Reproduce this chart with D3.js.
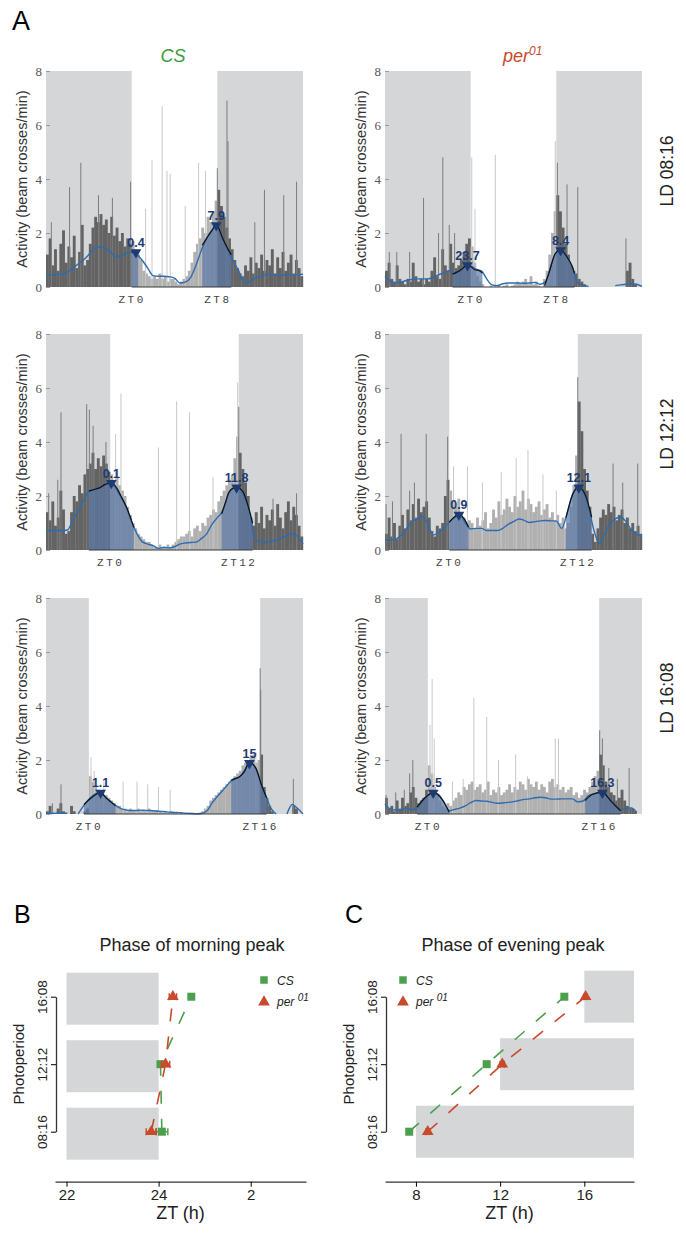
<!DOCTYPE html>
<html>
<head>
<meta charset="utf-8">
<script src="https://cdn.jsdelivr.net/npm/d3@7"></script>
<style>
body { margin: 0; background: #fff; }
svg text { font-family: "Liberation Sans", Arial, sans-serif; }
</style>
</head>
<body>
<svg id="fig" width="686" height="1233"></svg>
<script>
// ---- panel A data ----
var photoperiods = ["08:16", "12:12", "16:08"];
var lightHours = [8, 12, 16];

// activity, 15-min bins, starting at ZT (light/2 - 12)
var barsCS0816 = [1.2,1.8,0.8,1.4,0.6,1.6,2.1,0.9,1.5,1.1,1.9,0.7,1.3,2.3,0.8,1.0,
  1.6,2.2,2.6,2.4,2.7,2.3,2.5,2.0,2.6,1.9,2.2,1.7,2.0,1.5,1.8,1.6,
  1.7,1.4,1.2,1.0,0.6,0.5,0.4,0.3,0.4,0.3,0.5,0.3,0.4,0.2,0.3,0.3,
  0.2,0.1,0.2,0.3,0.4,0.6,0.9,1.3,1.6,1.8,2.2,2.0,2.6,2.4,2.8,3.2,
  3.6,3.0,2.6,2.2,1.8,1.4,1.0,0.7,0.5,0.4,0.8,0.6,1.1,0.5,0.9,0.7,
  1.2,0.6,1.0,0.8,1.4,0.5,1.1,0.7,1.3,0.6,0.9,1.2,0.5,1.0,0.7,0.4];
var barsPer0816 = [0.6,0.9,0.3,0.2,0.8,0.3,0.2,0.1,0.3,0.2,0.9,0.4,0.2,0.3,0.1,0.3,
  0.2,0.6,1.1,0.4,0.3,1.4,0.8,0.6,1.6,0.9,0.7,0.8,1.0,1.3,1.6,1.8,
  1.5,0.9,0.4,0.2,0.1,0.0,0.0,0.05,0.0,0.0,0.1,0.0,0.05,0.1,0.0,0.05,
  0.1,0.2,0.15,0.2,0.3,0.1,0.4,0.1,0.2,0.05,0.0,0.3,0.6,1.2,2.0,2.8,
  3.4,2.8,2.2,1.6,1.2,0.8,0.6,0.5,0.3,0.2,0.1,0.0,0.0,0.0,0.0,0.0,
  0.0,0.0,0.0,0.0,0.0,0.0,0.0,0.0,0.0,0.0,0.6,0.9,0.3,0.1,0.0,0.0];
var barsCS1212 = [1.4,1.1,1.8,0.9,1.2,2.2,1.5,0.6,0.7,1.4,2.0,1.8,2.4,2.1,2.8,3.0,
  3.2,3.6,3.0,3.4,3.1,3.5,3.2,2.9,2.8,2.6,2.7,2.4,2.2,2.0,1.6,1.3,
  1.0,0.8,0.6,0.5,0.4,0.3,0.3,0.2,0.1,0.1,0.2,0.1,0.1,0.2,0.1,0.2,
  0.3,0.4,0.5,0.5,0.6,0.7,0.5,0.8,0.9,0.7,1.0,0.9,1.2,1.3,1.5,1.4,
  1.8,2.0,2.2,2.4,2.6,2.8,3.4,4.2,3.6,3.0,2.5,2.0,1.2,0.9,1.4,1.0,
  1.6,0.8,1.3,1.1,1.5,0.9,1.7,1.2,0.8,1.4,1.8,1.1,1.6,1.3,0.9,0.5];
var barsPer1212 = [0.6,1.2,0.5,1.0,0.4,0.9,1.3,0.8,1.5,1.1,1.7,1.2,1.9,1.4,1.6,1.8,
  1.2,0.7,0.5,0.9,0.8,1.0,2.0,2.6,2.2,1.8,1.6,1.9,1.4,1.2,1.0,1.1,
  1.0,0.8,1.2,0.9,1.1,1.4,0.8,1.0,1.5,1.2,1.8,1.3,1.5,1.9,1.6,1.4,
  2.0,1.6,1.8,2.2,1.5,1.9,1.7,1.4,1.6,1.8,1.3,1.5,1.7,1.2,1.4,1.1,
  1.3,1.0,1.2,0.8,1.0,1.6,2.4,3.5,5.5,4.4,3.0,2.2,1.6,0.6,0.3,0.8,
  1.2,1.5,1.3,1.7,1.4,1.6,1.1,1.3,1.5,1.0,1.2,0.8,1.0,0.7,0.9,0.6];
var barsCS1608 = [0.1,0.3,0.05,0.0,0.2,0.4,0.1,0.0,0.0,0.3,0.1,0.0,0.0,0.0,0.1,0.2,
  1.4,1.2,1.0,0.9,0.8,0.7,0.7,0.6,0.5,0.4,0.3,0.3,0.2,0.2,0.1,0.2,
  0.15,0.1,0.2,0.1,0.15,0.1,0.2,0.1,0.1,0.15,0.1,0.05,0.1,0.05,0.1,0.05,
  0.05,0.0,0.05,0.0,0.0,0.05,0.0,0.0,0.0,0.05,0.1,0.2,0.3,0.5,0.6,0.7,
  0.8,0.9,1.0,1.1,1.2,1.3,1.4,1.5,1.6,1.8,1.9,2.0,2.1,2.2,1.9,2.0,
  2.2,1.0,0.6,0.3,0.1,0.0,0.0,0.0,0.0,0.0,0.0,0.0,0.3,0.2,0.0,0.0];
var barsPer1608 = [0.6,0.2,0.3,0.1,0.5,0.2,0.6,0.3,0.4,0.8,1.0,0.6,0.4,0.5,0.6,0.9,
  1.8,1.5,1.0,0.7,0.5,0.3,0.2,0.4,0.3,0.5,0.6,0.8,0.7,1.0,0.9,1.1,
  1.2,0.9,1.0,1.1,0.8,0.9,1.2,0.7,0.9,0.8,1.0,0.7,0.8,0.9,1.1,0.8,
  1.0,0.9,1.2,1.1,0.9,1.3,1.1,1.0,1.2,0.9,1.1,1.0,0.8,1.2,1.3,1.0,
  1.1,0.9,1.0,0.8,0.9,1.0,0.7,0.8,0.6,0.7,0.9,0.8,1.0,1.2,1.4,1.6,
  2.2,1.8,1.2,1.0,0.8,0.7,0.5,0.6,0.9,0.5,0.3,0.2,0.2,0.1,0.0,0.0];

// single tall 1-min counts [ZT, activity]
var spikesCS0816 = [[-7.5,2.4],[-5.8,3.7],[-4.75,4.6],[-3.1,3.4],[-1.8,3.3],[-0.1,3.9],[1.3,2.9],[1.9,4.7],[2.85,6.7],[3.3,4.3],[3.6,4.2],[5.0,3.0],[6.25,4.6],[6.9,4.3],[8.0,4.4],[8.9,6.9],[9.0,5.4],[11.5,2.4],[12.4,3.6],[14.2,3.4],[15.4,3.9]];
var spikesPer0816 = [[-7.6,1.3],[-6.9,1.3],[-5.7,1.3],[-4.4,3.3],[-3.0,2.0],[-2.6,4.8],[-2.0,2.3],[-1.5,2.0],[0.1,4.8],[0.4,2.9],[2.3,4.9],[7.9,5.4],[8.1,4.6],[9.0,3.8],[10.0,3.7],[14.5,1.8]];
var spikesCS1212 = [[-5.75,2.1],[-4.9,2.6],[-4.6,5.1],[-2.2,5.4],[-1.95,5.2],[-1.6,4.6],[-0.4,4.0],[0.5,4.3],[1.0,5.8],[4.5,3.8],[6.2,5.5],[7.4,5.1],[9.6,2.7],[11.9,6.2],[12.0,5.3],[15.2,1.9],[17.4,2.1]];
var spikesPer1212 = [[-5.9,1.7],[-5.3,1.8],[-4.5,4.3],[-3.7,2.2],[-3.25,2.5],[-2.15,4.3],[-0.15,4.2],[0.4,3.1],[1.7,3.1],[3.1,2.5],[4.85,2.9],[6.25,3.4],[7.35,3.7],[8.75,2.8],[10.0,2.2],[12.0,6.4],[15.3,3.2],[16.2,2.5],[17.6,3.2]];
var spikesCS1608 = [[-3.4,0.4],[-2.6,1.1],[0.2,2.1],[0.5,1.6],[1.4,1.2],[3.2,1.2],[4.5,1.2],[5.5,1.1],[6.5,1.0],[7.6,0.9],[13.8,1.4],[15.6,2.3],[16.0,5.4],[16.05,4.6],[19.1,1.3]];
var spikesPer1608 = [[-3.9,0.7],[-3.0,0.8],[-2.2,0.9],[-1.7,1.5],[-1.4,2.0],[0.2,3.3],[0.4,5.0],[0.6,2.8],[2.3,1.2],[3.3,1.3],[4.3,4.3],[5.5,3.6],[6.6,2.0],[8.2,2.2],[9.3,1.4],[11.9,2.8],[12.2,2.8],[16.05,3.1],[16.3,2.8],[16.9,1.7],[17.7,1.3],[18.8,1.7]];

// smoothed activity, every 30 min from ZT (light/2 - 12)
var smoothCS0816 = [0.45,0.45,0.46,0.48,0.55,0.7,0.85,1.0,1.2,1.42,1.48,1.44,1.3,1.12,1.15,1.25,1.3,
  1.2,0.98,0.7,0.42,0.4,0.4,0.38,0.33,0.15,0.18,0.35,0.8,1.35,1.8,2.1,2.28,
  1.8,1.35,0.95,0.6,0.15,0.2,0.32,0.4,0.45,0.47,0.46,0.44,0.45,0.46,0.46,0.47];
var smoothPer0816 = [0.4,0.22,0.15,0.18,0.24,0.28,0.3,0.3,0.3,0.36,0.45,0.52,0.6,0.5,0.6,0.78,0.78,
  0.66,0.6,0.3,0.08,0.05,0.12,0.15,0.15,0.15,0.14,0.15,0.17,0.1,0.2,0.8,1.28,
  1.36,1.12,0.74,0.15,0.08,0.02,null,null,null,null,0.05,0.08,0.1,0.12,0.1,0.02];
var smoothCS1212 = [0.72,0.72,0.72,0.72,0.74,1.1,1.45,1.82,2.18,2.24,2.32,2.44,2.5,
  2.3,1.95,1.59,1.05,0.6,0.3,0.22,0.16,0.06,0.1,0.08,0.12,
  0.22,0.26,0.28,0.29,0.42,0.6,0.95,1.2,1.45,2.05,2.3,2.3,
  2.0,1.45,0.4,0.3,0.28,0.32,0.37,0.45,0.55,0.6,0.5,0.22];
var smoothPer1212 = [0.37,0.37,0.4,0.55,0.78,1.05,1.15,1.24,0.95,0.55,0.65,0.8,1.03,
  1.2,1.3,1.0,0.78,0.8,0.8,0.72,0.72,0.72,0.8,0.95,1.05,
  1.15,1.1,1.02,1.05,1.08,1.09,1.08,1.07,0.8,1.34,2.05,2.32,
  2.15,1.6,0.75,0.25,0.6,0.95,1.15,1.22,1.05,0.75,0.57,0.53];
var smoothCS1608 = [0.02,0.02,0.03,0.03,0.03,null,0.0,0.3,0.55,0.72,0.8,0.65,0.47,
  0.32,0.2,0.15,0.13,0.13,0.14,0.13,0.12,0.1,0.09,0.07,0.06,
  0.05,0.03,0.02,0.01,0.02,0.1,0.4,0.65,0.87,1.1,1.3,1.35,
  1.6,1.9,1.75,1.25,0.7,0.22,0.0,null,0.0,0.35,0.2,0.0];
var smoothPer1608 = [0.37,0.18,0.15,0.15,0.22,0.16,0.25,0.52,0.68,0.8,0.72,0.45,0.12,
  0.17,0.22,0.3,0.42,0.5,0.48,0.47,0.43,0.4,0.41,0.43,0.46,
  0.5,0.54,0.56,0.6,0.62,0.6,0.55,0.55,0.56,0.56,0.56,0.45,
  0.48,0.68,0.75,0.8,0.75,0.55,0.3,0.15,0.22,0.22,0.06,null];

// peak windows [ZT, activity]
var peakCS0816M = [[0.0,1.28],[0.35,1.3],[0.6,1.22]];
var peakCS0816E = [[6.6,1.55],[7.0,1.8],[7.5,2.1],[7.9,2.3],[8.5,1.8],[9.0,1.4],[9.3,1.2]];
var peakPer0816M = [[-1.7,0.47],[-1.3,0.55],[-0.9,0.64],[-0.3,0.82],[0.4,0.64],[0.8,0.6],[1.1,0.52]];
var peakPer0816E = [[6.9,0.05],[7.3,0.5],[7.9,1.24],[8.4,1.38],[8.9,1.17],[9.5,0.74],[9.7,0.5]];
var peakCS1212M = [[-2.0,2.18],[-1.5,2.24],[-1.0,2.3],[-0.5,2.42],[0.1,2.5],[0.6,2.3],[1.0,2.0],[1.5,1.6],[2.2,0.84]];
var peakCS1212E = [[10.4,1.34],[10.8,1.8],[11.1,2.15],[11.8,2.33],[12.4,2.15],[12.9,1.59],[13.3,0.99]];
var peakPer1212M = [[0.0,1.03],[0.4,1.2],[0.9,1.32],[1.4,1.15],[1.8,0.85]];
var peakPer1212E = [[10.9,1.2],[11.55,2.08],[12.1,2.33],[12.8,1.95],[13.3,1.22]];
var peakCS1608M = [[-0.45,0.35],[0.3,0.62],[1.1,0.8],[1.6,0.6],[1.9,0.5],[2.5,0.3]];
var peakCS1608E = [[13.3,1.24],[13.8,1.33],[14.1,1.39],[14.5,1.55],[15.0,1.9],[15.6,1.7],[16.1,1.1],[16.6,0.6]];
var peakPer1608M = [[-1.0,0.25],[-0.2,0.62],[0.5,0.8],[1.4,0.5],[2.0,0.06]];
var peakPer1608E = [[14.7,0.5],[15.35,0.72],[16.3,0.8],[17.05,0.5],[18.0,0.12]];

// peak phase labels (ZT), [morning, evening] per photoperiod
var peakTimesCS = [[0.4, 7.9], [0.1, 11.8], [1.1, 15]];
var peakTimesPer = [[23.7, 8.4], [0.9, 12.1], [0.5, 16.3]];

// ---- panel B / C data (order: 08:16, 12:12, 16:08) ----
var morningCS = [24.07, 24.04, 24.71];
var morningCSErr = [0.13, 0.05, 0.05];
var morningPer = [23.84, 24.15, 24.31];
var morningPerErr = [0.11, 0.09, 0.08];
var eveningCS = [7.68, 11.36, 15.05];
var eveningCSErr = [0.08, 0.1, 0.08];
var eveningPer = [8.56, 12.1, 16.06];
var eveningPerErr = [0.08, 0.1, 0.08];

var green = "#4c9f4c", red = "#c9492c", shade = "#d5d6d8";
var peakBlue = "#1d3b72";

var svg = d3.select("#fig");

var panels = [
  {col: 0, row: 0, bars: barsCS0816, spikes: spikesCS0816, smooth: smoothCS0816, curves: [peakCS0816M, peakCS0816E], times: peakTimesCS[0]},
  {col: 1, row: 0, bars: barsPer0816, spikes: spikesPer0816, smooth: smoothPer0816, curves: [peakPer0816M, peakPer0816E], times: peakTimesPer[0]},
  {col: 0, row: 1, bars: barsCS1212, spikes: spikesCS1212, smooth: smoothCS1212, curves: [peakCS1212M, peakCS1212E], times: peakTimesCS[1]},
  {col: 1, row: 1, bars: barsPer1212, spikes: spikesPer1212, smooth: smoothPer1212, curves: [peakPer1212M, peakPer1212E], times: peakTimesPer[1]},
  {col: 0, row: 2, bars: barsCS1608, spikes: spikesCS1608, smooth: smoothCS1608, curves: [peakCS1608M, peakCS1608E], times: peakTimesCS[2]},
  {col: 1, row: 2, bars: barsPer1608, spikes: spikesPer1608, smooth: smoothPer1608, curves: [peakPer1608M, peakPer1608E], times: peakTimesPer[2]}
];

var colX = [46, 385], plotW = 257;
var rowY = [71, 334, 598], plotH = 216;

panels.forEach(function(p) { drawActogram(p); });

function drawActogram(p) {
  var light = lightHours[p.row];
  var x0 = colX[p.col], y0 = rowY[p.row];
  var dom0 = light / 2 - 12, dom1 = dom0 + 24;
  var x = d3.scaleLinear().domain([dom0, dom1]).range([x0, x0 + plotW]);
  var y = d3.scaleLinear().domain([0, 8]).range([y0 + plotH, y0]);
  var isDark = function(t) { return t < 0 || t >= light; };
  var g = svg.append("g");

  // dark phases
  [[dom0, 0], [light, dom1]].forEach(function(r) {
    g.append("rect")
      .attr("x", x(r[0])).attr("y", y(8))
      .attr("width", x(r[1]) - x(r[0])).attr("height", y(0) - y(8))
      .attr("fill", shade);
  });

  // activity bars
  var bw = x(dom0 + 0.25) - x(dom0);
  g.selectAll(".bar").data(p.bars).enter().append("rect")
    .attr("x", function(d, i) { return x(dom0 + i * 0.25); })
    .attr("width", bw + 0.2)
    .attr("y", function(d) { return y(d); })
    .attr("height", function(d) { return y(0) - y(d); })
    .attr("fill", function(d, i) { return isDark(dom0 + i * 0.25 + 0.125) ? "#636363" : "#b0b0b0"; });

  g.selectAll(".spike").data(p.spikes).enter().append("line")
    .attr("x1", function(d) { return x(d[0]); })
    .attr("x2", function(d) { return x(d[0]); })
    .attr("y1", y(0))
    .attr("y2", function(d) { return y(d[1]); })
    .attr("stroke", function(d) { return isDark(d[0]) ? "#7c7c7c" : "#c8c8c8"; })
    .attr("stroke-width", 1);

  // peak areas
  var area = d3.area()
    .x(function(d) { return x(d[0]); })
    .y0(y(0))
    .y1(function(d) { return y(d[1]); })
    .curve(d3.curveMonotoneX);
  p.curves.forEach(function(c) {
    g.append("path").datum(c).attr("d", area)
      .attr("fill", "#5b77a8").attr("fill-opacity", 0.7);
  });

  // smoothed activity
  var line = d3.line()
    .defined(function(d) { return d != null; })
    .x(function(d, i) { return x(dom0 + i * 0.5); })
    .y(function(d) { return y(d); })
    .curve(d3.curveMonotoneX);
  g.append("path").datum(p.smooth).attr("d", line)
    .attr("fill", "none").attr("stroke", "#2b6cb2").attr("stroke-width", 1.4);

  // baseline between the peak windows
  var c0 = p.curves[0], c1 = p.curves[p.curves.length - 1];
  g.append("line")
    .attr("x1", x(c0[0][0])).attr("x2", x(c1[c1.length - 1][0]))
    .attr("y1", y(0)).attr("y2", y(0))
    .attr("stroke", "#3a3a3a").attr("stroke-width", 1.2);

  var blk = d3.line()
    .x(function(d) { return x(d[0]); })
    .y(function(d) { return y(d[1]); })
    .curve(d3.curveMonotoneX);
  p.curves.forEach(function(c, k) {
    g.append("path").datum(c).attr("d", blk)
      .attr("fill", "none").attr("stroke", "#111").attr("stroke-width", 1.2);
    var t = p.times[k] > dom1 ? p.times[k] - 24 : p.times[k];
    var v = d3.max(c, function(d) { return d[1]; });
    g.append("path")
      .attr("d", d3.symbol(d3.symbolTriangle).size(50)())
      .attr("transform", "translate(" + x(t) + "," + (y(v) + 0.5) + ") rotate(180)")
      .attr("fill", peakBlue);
    g.append("text")
      .attr("x", x(t)).attr("y", y(v) - 5)
      .attr("text-anchor", "middle")
      .style("font-size", "12.5px").style("font-weight", "bold")
      .attr("fill", peakBlue)
      .text(String(p.times[k]));
  });

  // axes
  var ya = g.append("g").attr("transform", "translate(" + x0 + ",0)")
    .call(d3.axisLeft(y).tickValues([0, 2, 4, 6, 8]).tickSize(-4).tickPadding(4));
  ya.select(".domain").remove();
  ya.selectAll("line").attr("stroke", "#999");
  ya.selectAll("text")
    .style("font-family", "'Liberation Serif', 'DejaVu Serif', serif")
    .style("font-size", "13px").attr("fill", "#555");

  var xa = g.append("g").attr("transform", "translate(0," + (y0 + plotH) + ")")
    .call(d3.axisBottom(x).tickValues([0, light]).tickSize(0).tickPadding(8)
      .tickFormat(function(d) { return "ZT" + d; }));
  xa.select(".domain").remove();
  xa.selectAll("text")
    .style("font-family", "'Liberation Mono', 'DejaVu Sans Mono', monospace")
    .style("font-size", "11px").style("letter-spacing", "2.5px").attr("fill", "#444");

  g.append("text")
    .attr("transform", "translate(" + (x0 - 19) + "," + (y0 + plotH / 2) + ") rotate(-90)")
    .attr("text-anchor", "middle")
    .style("font-size", "14.5px").attr("fill", "#333")
    .text("Activity (beam crosses/min)");
}

// column titles, row labels, panel letters
svg.append("text").attr("x", 12).attr("y", 30).style("font-size", "27px").text("A");
svg.append("text").attr("x", 173).attr("y", 62).attr("text-anchor", "middle")
  .style("font-size", "18px").style("font-style", "italic").attr("fill", "#3d9a3d").text("CS");
var perTitle = svg.append("text").attr("x", 503).attr("y", 62)
  .style("font-size", "18px").style("font-style", "italic").attr("fill", red);
perTitle.append("tspan").text("per");
perTitle.append("tspan").attr("dy", -7).style("font-size", "12px").text("01");

photoperiods.forEach(function(pp, i) {
  svg.append("text")
    .attr("transform", "translate(673," + (rowY[i] + plotH / 2 - 8) + ") rotate(-90)")
    .attr("text-anchor", "middle").style("font-size", "17.5px").attr("fill", "#222")
    .text("LD " + pp);
});

svg.append("text").attr("x", 14).attr("y", 923).style("font-size", "25px").text("B");
svg.append("text").attr("x", 345).attr("y", 923).style("font-size", "25px").text("C");

// ---- phase plots ----
function drawPhase(opt) {
  var g = svg.append("g");
  var x = d3.scaleLinear().domain(opt.domain).range(opt.range);
  var y = d3.scalePoint().domain(photoperiods).range([1131.7, 996.7]);

  opt.shadeFrom.forEach(function(s, i) {
    g.append("rect")
      .attr("x", x(s[0])).attr("width", x(s[1]) - x(s[0]))
      .attr("y", y(photoperiods[i]) - 26 + opt.shadeShift).attr("height", 52)
      .attr("fill", shade);
  });

  var xa = g.append("g").attr("transform", "translate(0,1181.7)")
    .call(d3.axisBottom(x).tickValues(opt.ticks).tickFormat(opt.format).tickSize(5).tickSizeOuter(0));
  xa.select(".domain").attr("stroke", "#333").attr("stroke-width", 1.3);
  xa.selectAll("text").style("font-size", "15px").attr("fill", "#222");

  var ya = g.append("g").attr("transform", "translate(" + (opt.range[0] + 1) + ",0)")
    .call(d3.axisLeft(y).tickSize(5).tickSizeOuter(0));
  ya.select(".domain").attr("stroke", "#333").attr("stroke-width", 1.3);
  ya.selectAll("text")
    .attr("transform", "rotate(-90)").attr("x", 0).attr("y", -9).attr("dy", 0)
    .style("text-anchor", "middle").style("font-size", "13.5px").attr("fill", "#222");

  g.append("text")
    .attr("transform", "translate(" + (opt.range[0] - 31) + ",1064) rotate(-90)")
    .attr("text-anchor", "middle").style("font-size", "15px").attr("fill", "#222")
    .text("Photoperiod");
  g.append("text").attr("x", (opt.range[0] + opt.range[1]) / 2).attr("y", 1219)
    .attr("text-anchor", "middle").style("font-size", "18px").attr("fill", "#222").text("ZT (h)");
  g.append("text").attr("x", opt.titleX).attr("y", 951)
    .attr("text-anchor", "middle").style("font-size", "18px").attr("fill", "#222").text(opt.title);

  var series = [
    {vals: opt.cs, err: opt.csErr, color: green, sym: d3.symbolSquare},
    {vals: opt.per, err: opt.perErr, color: red, sym: d3.symbolTriangle}
  ];
  series.forEach(function(s) {
    var pts = s.vals.map(function(v, i) { return [x(v), y(photoperiods[i])]; });
    g.append("path").datum(pts).attr("d", d3.line())
      .attr("fill", "none").attr("stroke", s.color).attr("stroke-width", 1.6)
      .attr("stroke-dasharray", "13,15");
    s.vals.forEach(function(v, i) {
      var yy = y(photoperiods[i]);
      var xl = x(v - s.err[i]), xr = x(v + s.err[i]);
      g.append("line").attr("x1", xl).attr("x2", xr).attr("y1", yy).attr("y2", yy)
        .attr("stroke", s.color).attr("stroke-width", 1.4);
      [xl, xr].forEach(function(xx) {
        g.append("line").attr("x1", xx).attr("x2", xx).attr("y1", yy - 3.5).attr("y2", yy + 3.5)
          .attr("stroke", s.color).attr("stroke-width", 1.4);
      });
      g.append("path").attr("d", d3.symbol(s.sym).size(s.sym === d3.symbolSquare ? 64 : 60)())
        .attr("transform", "translate(" + x(v) + "," + yy + ")").attr("fill", s.color);
    });
  });

  // legend
  g.append("path").attr("d", d3.symbol(d3.symbolSquare).size(56)())
    .attr("transform", "translate(" + opt.legendX + ",980)").attr("fill", green);
  g.append("text").attr("x", opt.legendX + 13).attr("y", 984.5)
    .style("font-size", "12px").style("font-style", "italic").attr("fill", "#222").text("CS");
  g.append("path").attr("d", d3.symbol(d3.symbolTriangle).size(60)())
    .attr("transform", "translate(" + opt.legendX + ",1002)").attr("fill", red);
  var lt = g.append("text").attr("x", opt.legendX + 13).attr("y", 1006)
    .style("font-size", "12px").style("font-style", "italic").attr("fill", "#222");
  lt.append("tspan").text("per ");
  lt.append("tspan").attr("dy", -5).style("font-size", "10px").text("01");
}

drawPhase({
  domain: [21.75, 27.2], range: [55, 306],
  ticks: [22, 24, 26], format: function(d) { return d > 24 ? d - 24 : d; },
  shadeFrom: [[22, 24], [22, 24], [22, 24]], shadeShift: 2,
  cs: morningCS, csErr: morningCSErr, per: morningPer, perErr: morningPerErr,
  title: "Phase of morning peak", titleX: 192, legendX: 264
});
drawPhase({
  domain: [6.53, 18.36], range: [385, 634],
  ticks: [8, 12, 16], format: function(d) { return d; },
  shadeFrom: [[8, 18.36], [12, 18.36], [16, 18.36]], shadeShift: 0,
  cs: eveningCS, csErr: eveningCSErr, per: eveningPer, perErr: eveningPerErr,
  title: "Phase of evening peak", titleX: 513, legendX: 403
});
</script>
</body>
</html>
